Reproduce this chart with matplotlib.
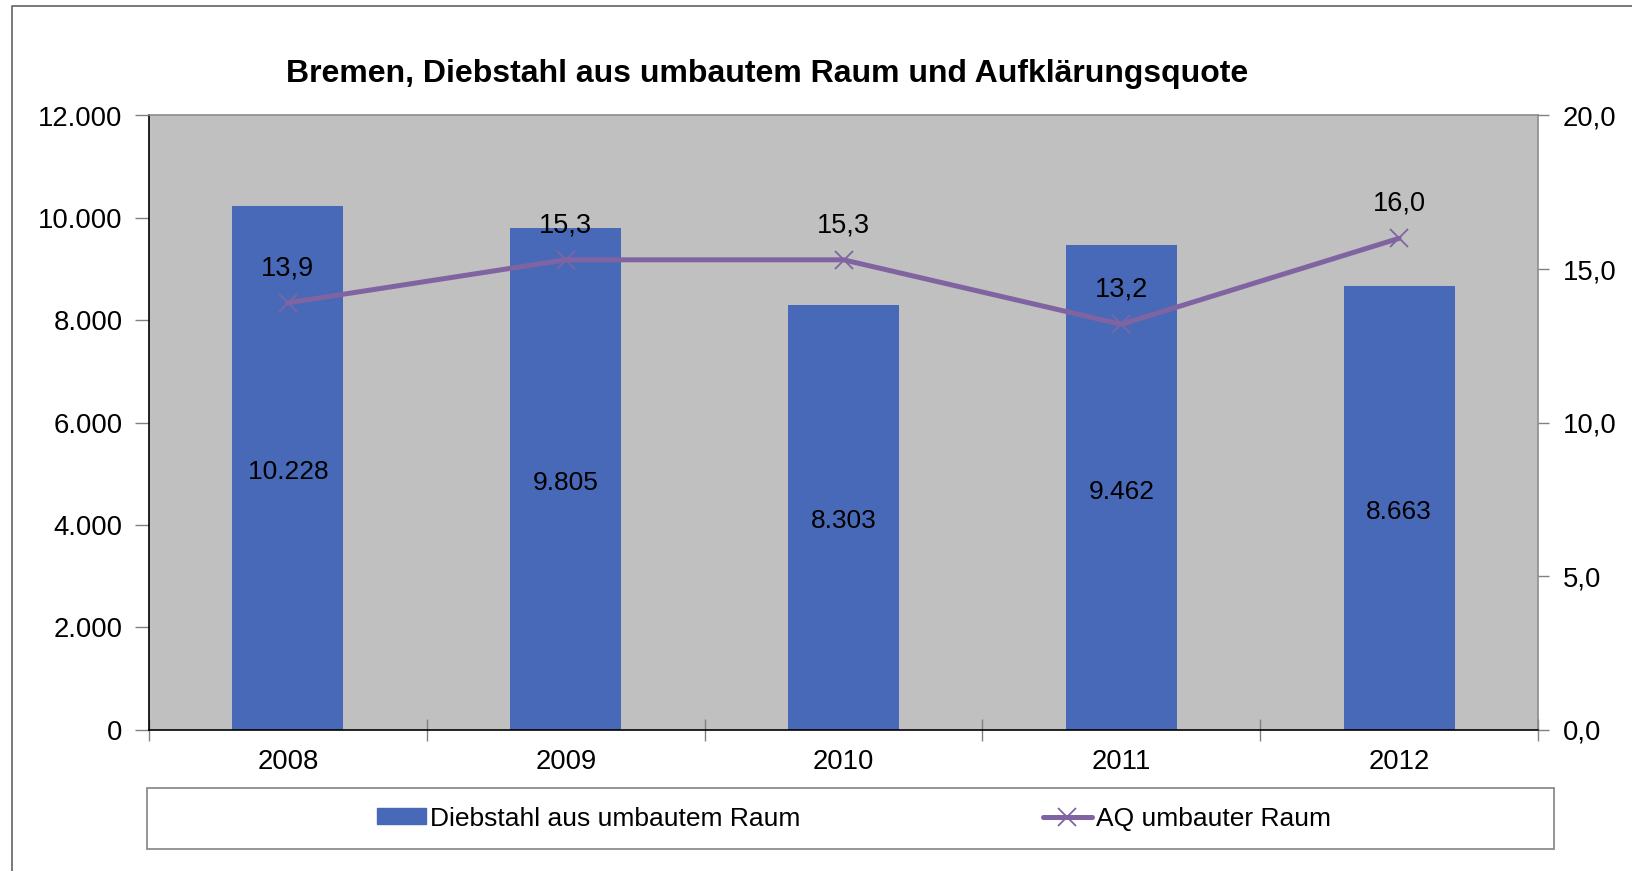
import matplotlib
matplotlib.use("Agg")
import matplotlib.pyplot as plt
from matplotlib.patches import Rectangle
from matplotlib.lines import Line2D
from matplotlib.ticker import FixedLocator, NullFormatter

plt.rcParams['font.family'] = ['Liberation Sans', 'DejaVu Sans']

years = ["2008", "2009", "2010", "2011", "2012"]
diebstahl = [10228, 9805, 8303, 9462, 8663]
aq = [13.9, 15.3, 15.3, 13.2, 16.0]
left_ticks = [0, 2000, 4000, 6000, 8000, 10000, 12000]
right_ticks = [0, 5, 10, 15, 20]

title = "Bremen, Diebstahl aus umbautem Raum und Aufklärungsquote"
bar_name = "Diebstahl aus umbautem Raum"
line_name = "AQ umbauter Raum"

BAR_C = "#4769B8"
LINE_C = "#8064A2"
BG = "#C0C0C0"

def de_int(v):
    return f"{int(v):,}".replace(",", ".")

def de_dec(v):
    return f"{v:.1f}".replace(".", ",")

W, H = 1632, 871
fig = plt.figure(figsize=(W / 100, H / 100), dpi=100)

# outer border (only left and top visible)
fig.lines.append(Line2D([11.5 / W, 11.5 / W, 1.0], [0.0, 1 - 6 / H, 1 - 6 / H],
                        transform=fig.transFigure, color="#6E6E6E", lw=1.3))

x0, x1, y0, y1 = 149, 1538, 115.5, 729.6
ax = fig.add_axes([x0 / W, 1 - y1 / H, (x1 - x0) / W, (y1 - y0) / H])
ax.set_facecolor(BG)
xs = list(range(len(years)))
ax.bar(xs, diebstahl, width=0.4, color=BAR_C, zorder=2)
ax.set_xlim(-0.5, len(years) - 0.5)
ax.set_ylim(0, 12000)
ax.set_yticks(left_ticks)
ax.set_yticklabels([de_int(v) for v in left_ticks], fontsize=19.8)
ax.tick_params(axis="y", direction="out", length=10, width=1, color="#808080", pad=9)

ax.xaxis.set_major_locator(FixedLocator([i - 0.5 for i in range(len(years) + 1)]))
ax.xaxis.set_major_formatter(NullFormatter())
ax.xaxis.set_minor_locator(FixedLocator(xs))
ax.set_xticklabels(years, minor=True, fontsize=19.8)
ax.tick_params(axis="x", which="major", direction="inout", length=16, width=1, color="#808080")
ax.tick_params(axis="x", which="minor", length=0, pad=14)

for s in ["top", "right"]:
    ax.spines[s].set_color("#8C8C8C")
    ax.spines[s].set_linewidth(1.2)
for s in ["left", "bottom"]:
    ax.spines[s].set_color("black")
    ax.spines[s].set_linewidth(1.2)

for x, v in zip(xs, diebstahl):
    ax.annotate(de_int(v), (x, v / 2), xytext=(0, -3), textcoords="offset points",
                ha="center", va="center", fontsize=19, zorder=5)

ax2 = ax.twinx()
ax2.set_ylim(0, 20)
ax2.set_yticks(right_ticks)
ax2.set_yticklabels([de_dec(v) for v in right_ticks], fontsize=19.8)
ax2.tick_params(axis="y", direction="out", length=8, width=1, color="#808080", pad=10)
for s in ["top", "right", "left", "bottom"]:
    ax2.spines[s].set_visible(False)
ax2.plot(xs, aq, color=LINE_C, lw=3.6, marker="x", markersize=13, mew=1.3,
         solid_capstyle="round", solid_joinstyle="round", zorder=4)
for x, v in zip(xs, aq):
    ax2.annotate(de_dec(v), (x, v), xytext=(0, 25), textcoords="offset points",
                 ha="center", va="center", fontsize=19.5, zorder=6)

fig.text(767 / W, 1 - 74 / H, title, ha="center", va="center",
         fontsize=23, fontweight="bold")

# legend box
lx0, lx1, ly0, ly1 = 147, 1554, 788, 849
fig.patches.append(Rectangle((lx0 / W, 1 - ly1 / H), (lx1 - lx0) / W, (ly1 - ly0) / H,
                             transform=fig.transFigure, fill=True, facecolor="white",
                             edgecolor="#8C8C8C", lw=1.3))
h_bar = Rectangle((0, 0), 1, 1, color=BAR_C)
h_line = Line2D([], [], color=LINE_C, lw=3.6, marker="x", markersize=13, mew=1.3,
                solid_capstyle="round")
fig.legend([h_bar, h_line], [bar_name, line_name], loc="center",
           bbox_to_anchor=((lx0 + lx1) / 2 / W + 0.002, 1 - (ly0 + ly1) / 2 / H),
           ncol=2, frameon=False, fontsize=19, handlelength=1.85, handleheight=0.55,
           handletextpad=0.15, columnspacing=9.2)

fig.savefig("out.png", dpi=100)
